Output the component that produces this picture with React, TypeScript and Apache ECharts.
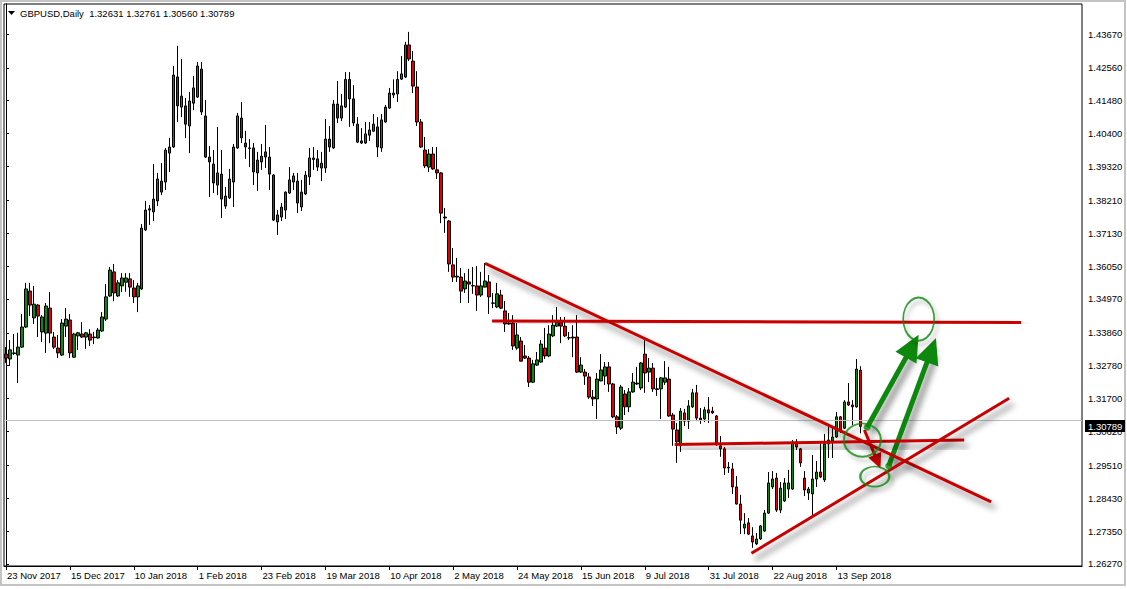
import React, { useEffect, useRef } from "react";
import * as echarts from "echarts";

// Daily GBPUSD candles: [open, close, low, high]
const ohlc: number[][] = [
  [1.3316, 1.3303, 1.3287, 1.3339], [1.3300, 1.3330, 1.3277, 1.3362], [1.3318, 1.3320, 1.3313, 1.3382], [1.3313, 1.3339, 1.3221, 1.3386],
  [1.3339, 1.3405, 1.3337, 1.3448], [1.3405, 1.3530, 1.3402, 1.3550], [1.3523, 1.3477, 1.3441, 1.3550], [1.3435, 1.3480, 1.3415, 1.3540],
  [1.3477, 1.3441, 1.3372, 1.3480], [1.3389, 1.3438, 1.3356, 1.3444], [1.3385, 1.3474, 1.3320, 1.3484], [1.3467, 1.3385, 1.3352, 1.3520],
  [1.3372, 1.3339, 1.3333, 1.3389], [1.3336, 1.3320, 1.3303, 1.3379], [1.3313, 1.3418, 1.3310, 1.3431], [1.3408, 1.3431, 1.3372, 1.3467],
  [1.3428, 1.3320, 1.3303, 1.3448], [1.3306, 1.3382, 1.3304, 1.3386], [1.3376, 1.3386, 1.3330, 1.3389], [1.3382, 1.3372, 1.3369, 1.3421],
  [1.3372, 1.3386, 1.3333, 1.3389], [1.3382, 1.3362, 1.3343, 1.3398], [1.3372, 1.3370, 1.3349, 1.3389], [1.3369, 1.3395, 1.3367, 1.3402],
  [1.3392, 1.3438, 1.3389, 1.3454], [1.3431, 1.3504, 1.3425, 1.3546], [1.3507, 1.3592, 1.3504, 1.3602], [1.3586, 1.3517, 1.3490, 1.3612],
  [1.3507, 1.3550, 1.3504, 1.3559], [1.3540, 1.3566, 1.3520, 1.3582], [1.3552, 1.3566, 1.3521, 1.3582], [1.3563, 1.3536, 1.3504, 1.3582],
  [1.3533, 1.3504, 1.3484, 1.3559], [1.3504, 1.3540, 1.3454, 1.3550], [1.3530, 1.3730, 1.3527, 1.3743], [1.3724, 1.3789, 1.3720, 1.3819],
  [1.3789, 1.3793, 1.3740, 1.3806], [1.3783, 1.3825, 1.3753, 1.3940], [1.3819, 1.3891, 1.3802, 1.3911], [1.3884, 1.3848, 1.3838, 1.3943],
  [1.3881, 1.3986, 1.3855, 1.3993], [1.3976, 1.3996, 1.3914, 1.4026], [1.3996, 1.4232, 1.3993, 1.4262], [1.4226, 1.4131, 1.4078, 1.4328],
  [1.4127, 1.4163, 1.4094, 1.4285], [1.4131, 1.4071, 1.4025, 1.4157], [1.4065, 1.4147, 1.3976, 1.4177], [1.4140, 1.4190, 1.4117, 1.4229],
  [1.4160, 1.4262, 1.4157, 1.4275], [1.4252, 1.4111, 1.4101, 1.4275], [1.4098, 1.3963, 1.3960, 1.4150], [1.3963, 1.3947, 1.3832, 1.3999],
  [1.3940, 1.3878, 1.3845, 1.3986], [1.3871, 1.3911, 1.3838, 1.4062], [1.3907, 1.3825, 1.3763, 1.3986], [1.3802, 1.3835, 1.3793, 1.3865],
  [1.3829, 1.3891, 1.3825, 1.3924], [1.3881, 1.3996, 1.3799, 1.4006], [1.3993, 1.4098, 1.3990, 1.4108], [1.4091, 1.4026, 1.4009, 1.4144],
  [1.4009, 1.3996, 1.3957, 1.4049], [1.3993, 1.3991, 1.3930, 1.4022], [1.3993, 1.3914, 1.3871, 1.4009], [1.3911, 1.3953, 1.3852, 1.3980],
  [1.3947, 1.3966, 1.3921, 1.4006], [1.3980, 1.3963, 1.3927, 1.4068], [1.3963, 1.3907, 1.3855, 1.3996], [1.3904, 1.3756, 1.3753, 1.3907],
  [1.3750, 1.3773, 1.3707, 1.3789], [1.3766, 1.3799, 1.3753, 1.3812], [1.3789, 1.3848, 1.3760, 1.3850], [1.3845, 1.3888, 1.3842, 1.3930],
  [1.3881, 1.3901, 1.3855, 1.3911], [1.3884, 1.3812, 1.3779, 1.3911], [1.3799, 1.3848, 1.3786, 1.3888], [1.3842, 1.3904, 1.3838, 1.3917],
  [1.3898, 1.3960, 1.3871, 1.3993], [1.3955, 1.3960, 1.3921, 1.3996], [1.3957, 1.3930, 1.3917, 1.3986], [1.3927, 1.3943, 1.3884, 1.3980],
  [1.3927, 1.4022, 1.3911, 1.4088], [1.4022, 1.3996, 1.3980, 1.4065], [1.3993, 1.4137, 1.3990, 1.4150], [1.4137, 1.4091, 1.4075, 1.4213],
  [1.4091, 1.4131, 1.4081, 1.4170], [1.4127, 1.4218, 1.4124, 1.4242], [1.4218, 1.4154, 1.4062, 1.4242], [1.4154, 1.4075, 1.4065, 1.4199],
  [1.4071, 1.4012, 1.4009, 1.4094], [1.4016, 1.4009, 1.4006, 1.4058], [1.4009, 1.4039, 1.4006, 1.4078], [1.4035, 1.4052, 1.4016, 1.4078],
  [1.4048, 1.4071, 1.4045, 1.4104], [1.4062, 1.3996, 1.3963, 1.4094], [1.3993, 1.4085, 1.3980, 1.4104], [1.4078, 1.4127, 1.4076, 1.4134],
  [1.4124, 1.4173, 1.4121, 1.4190], [1.4167, 1.4173, 1.4157, 1.4218], [1.4170, 1.4218, 1.4144, 1.4245], [1.4219, 1.4236, 1.4216, 1.4295],
  [1.4226, 1.4331, 1.4222, 1.4341], [1.4331, 1.4285, 1.4278, 1.4374], [1.4278, 1.4196, 1.4173, 1.4311], [1.4193, 1.4078, 1.4065, 1.4245],
  [1.4078, 1.3996, 1.3993, 1.4088], [1.3986, 1.3934, 1.3927, 1.4029], [1.3930, 1.3973, 1.3914, 1.3989], [1.3973, 1.3924, 1.3921, 1.3996],
  [1.3921, 1.3911, 1.3891, 1.3996], [1.3911, 1.3779, 1.3746, 1.3914], [1.3766, 1.3763, 1.3714, 1.3796], [1.3753, 1.3612, 1.3586, 1.3756],
  [1.3609, 1.3569, 1.3553, 1.3664], [1.3569, 1.3572, 1.3553, 1.3632], [1.3569, 1.3523, 1.3484, 1.3599], [1.3530, 1.3556, 1.3517, 1.3582],
  [1.3553, 1.3546, 1.3484, 1.3596], [1.3541, 1.3540, 1.3514, 1.3602], [1.3540, 1.3510, 1.3458, 1.3605], [1.3510, 1.3540, 1.3504, 1.3586],
  [1.3536, 1.3556, 1.3535, 1.3615], [1.3553, 1.3504, 1.3448, 1.3576], [1.3484, 1.3483, 1.3467, 1.3517], [1.3471, 1.3514, 1.3467, 1.3550],
  [1.3510, 1.3467, 1.3464, 1.3527], [1.3458, 1.3415, 1.3389, 1.3490], [1.3418, 1.3415, 1.3412, 1.3451], [1.3418, 1.3343, 1.3330, 1.3444],
  [1.3336, 1.3379, 1.3330, 1.3418], [1.3359, 1.3293, 1.3292, 1.3372], [1.3310, 1.3303, 1.3300, 1.3346], [1.3303, 1.3224, 1.3208, 1.3310],
  [1.3224, 1.3284, 1.3221, 1.3297], [1.3280, 1.3297, 1.3277, 1.3323], [1.3290, 1.3349, 1.3288, 1.3362], [1.3336, 1.3310, 1.3300, 1.3402],
  [1.3310, 1.3382, 1.3306, 1.3411], [1.3376, 1.3411, 1.3372, 1.3444], [1.3408, 1.3421, 1.3405, 1.3471], [1.3421, 1.3408, 1.3352, 1.3438],
  [1.3408, 1.3376, 1.3372, 1.3438], [1.3370, 1.3369, 1.3362, 1.3389], [1.3372, 1.3369, 1.3306, 1.3411], [1.3372, 1.3257, 1.3254, 1.3444],
  [1.3257, 1.3280, 1.3254, 1.3306], [1.3257, 1.3244, 1.3215, 1.3267], [1.3241, 1.3175, 1.3169, 1.3254], [1.3175, 1.3169, 1.3146, 1.3198],
  [1.3169, 1.3234, 1.3103, 1.3254], [1.3228, 1.3264, 1.3227, 1.3316], [1.3244, 1.3274, 1.3215, 1.3290], [1.3274, 1.3218, 1.3192, 1.3290],
  [1.3218, 1.3110, 1.3106, 1.3221], [1.3110, 1.3077, 1.3054, 1.3116], [1.3073, 1.3208, 1.3067, 1.3215], [1.3185, 1.3143, 1.3116, 1.3198],
  [1.3143, 1.3192, 1.3126, 1.3205], [1.3192, 1.3224, 1.3189, 1.3254], [1.3218, 1.3221, 1.3215, 1.3274], [1.3205, 1.3287, 1.3198, 1.3290],
  [1.3316, 1.3254, 1.3189, 1.3362], [1.3257, 1.3270, 1.3224, 1.3303], [1.3270, 1.3202, 1.3192, 1.3287], [1.3202, 1.3200, 1.3179, 1.3238],
  [1.3202, 1.3238, 1.3103, 1.3241], [1.3224, 1.3238, 1.3215, 1.3293], [1.3234, 1.3113, 1.3110, 1.3274], [1.3116, 1.3070, 1.3015, 1.3123],
  [1.3067, 1.3028, 1.2959, 1.3090], [1.3015, 1.3129, 1.2995, 1.3139], [1.3123, 1.3096, 1.3080, 1.3136], [1.3096, 1.3146, 1.3070, 1.3165],
  [1.3143, 1.3189, 1.3139, 1.3202], [1.3189, 1.3106, 1.3096, 1.3215], [1.3106, 1.3100, 1.3087, 1.3139], [1.3103, 1.3133, 1.3093, 1.3143],
  [1.3133, 1.3123, 1.3090, 1.3175], [1.3129, 1.3123, 1.3120, 1.3143], [1.3113, 1.3018, 1.3015, 1.3116], [1.3015, 1.3005, 1.2979, 1.3047],
  [1.3005, 1.2942, 1.2919, 1.3011], [1.2945, 1.2942, 1.2926, 1.2962], [1.2939, 1.2880, 1.2857, 1.2959], [1.2880, 1.2824, 1.2822, 1.2916],
  [1.2824, 1.2771, 1.2725, 1.2854], [1.2745, 1.2758, 1.2725, 1.2794], [1.2762, 1.2725, 1.2722, 1.2778], [1.2719, 1.2699, 1.2680, 1.2748],
  [1.2693, 1.2709, 1.2689, 1.2729], [1.2709, 1.2752, 1.2706, 1.2755], [1.2735, 1.2794, 1.2733, 1.2804], [1.2794, 1.2893, 1.2791, 1.2929],
  [1.2880, 1.2906, 1.2873, 1.2932], [1.2909, 1.2804, 1.2798, 1.2926], [1.2804, 1.2876, 1.2794, 1.2896], [1.2834, 1.2893, 1.2831, 1.2909],
  [1.2873, 1.2893, 1.2844, 1.2936], [1.2873, 1.3024, 1.2870, 1.3034], [1.3024, 1.3011, 1.3001, 1.3037], [1.3005, 1.2959, 1.2946, 1.3008],
  [1.2909, 1.2870, 1.2850, 1.2932], [1.2860, 1.2873, 1.2837, 1.2880], [1.2857, 1.2906, 1.2788, 1.2985], [1.2906, 1.2929, 1.2880, 1.2965],
  [1.2929, 1.2913, 1.2909, 1.3024], [1.2903, 1.3021, 1.2896, 1.3054], [1.3021, 1.3034, 1.2975, 1.3083], [1.3031, 1.3044, 1.2975, 1.3073],
  [1.3044, 1.3110, 1.3041, 1.3126], [1.3110, 1.3064, 1.3057, 1.3113], [1.3073, 1.3159, 1.3070, 1.3165], [1.3159, 1.3149, 1.3146, 1.3221],
  [1.3149, 1.3143, 1.3083, 1.3165], [1.3143, 1.3267, 1.3140, 1.3300], [1.32631, 1.30789, 1.30560, 1.32761],
];

// Date labels shown every 16 bars on the time axis
const dateTicks = [
  "23 Nov 2017", "15 Dec 2017", "10 Jan 2018", "1 Feb 2018", "23 Feb 2018", "19 Mar 2018", "10 Apr 2018",
  "2 May 2018", "24 May 2018", "15 Jun 2018", "9 Jul 2018", "31 Jul 2018", "22 Aug 2018", "13 Sep 2018",
];
const BARS_PER_TICK = 16;
const TOTAL_SLOTS = 270; // bars + empty chart shift on the right

// Price scale tick labels
const priceTicks = [
  1.4367, 1.4256, 1.4148, 1.404, 1.3932, 1.3821, 1.3713, 1.3605, 1.3497,
  1.3386, 1.3278, 1.317, 1.3062, 1.2951, 1.2843, 1.2735, 1.2627,
];
const PRICE_MIN = 1.26204;
const PRICE_MAX = 1.44655;

// Drawn objects: [barIndex, price]
const redTrendLines: number[][][] = [
  [[120, 1.3614], [246.75, 1.2831]], // falling trendline
  [[121.75, 1.3425], [254.25, 1.342]], // upper resistance
  [[167.5, 1.3019], [240, 1.3034]], // 1.30 level
  [[186.7, 1.2662], [251.25, 1.3171]], // rising trendline
];
const greenArrows: number[][][] = [
  [[215.7, 1.3076], [227, 1.3342]],
  [[221.1, 1.2949], [231.8, 1.3329]],
];
const redArrows: number[][][] = [[[215, 1.3067], [218.3, 1.2963]]];
const ellipses: { pos: number[]; size: number[] }[] = [
  { pos: [214.5, 1.3034], size: [37, 33] },
  { pos: [217.6, 1.2914], size: [29, 20] },
  { pos: [228.6, 1.3431], size: [31, 43] },
];
const arrowDots: number[][] = [
  [215.7, 1.3076],
  [221.1, 1.2949],
];

const FONT = "'Liberation Sans', Arial, sans-serif";
const FS = 9.5;
const RED = "#c80000";
const GREEN = "#0d870d";
const SHADOW = {
  shadowColor: "rgba(0,0,0,0.5)",
  shadowBlur: 6,
  shadowOffsetX: 4,
  shadowOffsetY: 6,
};

export default function App() {
  const ref = useRef<HTMLDivElement>(null);

  useEffect(() => {
    if (!ref.current) return;
    const chart = echarts.init(ref.current, null, { renderer: "svg" });
    const last = ohlc[ohlc.length - 1];
    const categories = Array.from({ length: TOTAL_SLOTS }, (_, i) => String(i));
    const showTick = (i: number) =>
      i % BARS_PER_TICK === 0 && i / BARS_PER_TICK < dateTicks.length;

    const series: any[] = [
      {
        type: "candlestick",
        xAxisIndex: 0,
        yAxisIndex: 0,
        data: ohlc,
        barWidth: 3,
        itemStyle: {
          color: "#0a8a0a",
          color0: "#e00000",
          borderColor: "#000",
          borderColor0: "#000",
          borderColorDoji: "#000",
          borderWidth: 1,
        },
        markLine: {
          silent: true,
          symbol: ["none", "none"],
          data: [{ yAxis: last[1] }],
          lineStyle: { color: "#c0c0c0", width: 1, type: "solid" },
          label: { show: false },
        },
        z: 2,
      },
    ];

    redTrendLines.forEach((ln) => {
      series.push({
        type: "line",
        xAxisIndex: 1,
        yAxisIndex: 0,
        data: ln,
        symbol: "none",
        silent: true,
        lineStyle: { color: RED, width: 3, type: "solid", ...SHADOW },
        z: 5,
      });
    });

    series.push({
      type: "line",
      xAxisIndex: 1,
      yAxisIndex: 0,
      data: [],
      silent: true,
      z: 6,
      markLine: {
        silent: true,
        label: { show: false },
        data: [
          ...greenArrows.map((a) => [
            { coord: a[0], symbol: "none", lineStyle: { color: GREEN, width: 5, type: "solid", ...SHADOW } },
            { coord: a[1], symbol: "triangle", symbolSize: [24, 26], itemStyle: { color: GREEN } },
          ]),
          ...redArrows.map((a) => [
            { coord: a[0], symbol: "none", lineStyle: { color: RED, width: 3, type: "solid", ...SHADOW } },
            { coord: a[1], symbol: "triangle", symbolSize: [14, 15], itemStyle: { color: RED } },
          ]),
        ],
      },
    });

    series.push({
      type: "scatter",
      xAxisIndex: 1,
      yAxisIndex: 0,
      silent: true,
      z: 7,
      symbol: "circle",
      data: ellipses.map((e) => ({ value: e.pos, symbolSize: e.size })),
      itemStyle: {
        color: "rgba(0,0,0,0)",
        borderColor: GREEN,
        borderWidth: 2,
        shadowColor: "rgba(0,0,0,0.35)",
        shadowBlur: 4,
        shadowOffsetX: 3,
        shadowOffsetY: 4,
      },
    });

    series.push({
      type: "scatter",
      xAxisIndex: 1,
      yAxisIndex: 0,
      silent: true,
      z: 8,
      symbol: "circle",
      symbolSize: 7,
      data: arrowDots,
      itemStyle: { color: GREEN },
    });

    const option: any = {
      animation: false,
      backgroundColor: "#fff",
      textStyle: { fontFamily: FONT },
      grid: {
        left: 4,
        right: 45,
        top: 4,
        bottom: 23,
        show: true,
        borderColor: "#000",
        borderWidth: 1,
        backgroundColor: "#fff",
      },
      xAxis: [
        {
          type: "category",
          data: categories,
          boundaryGap: true,
          axisLine: { show: true, lineStyle: { color: "#000", width: 1 } },
          axisTick: {
            show: true,
            interval: (i: number) => showTick(i),
            alignWithLabel: true,
            length: 4,
            lineStyle: { color: "#000" },
          },
          axisLabel: {
            interval: (i: number) => showTick(i),
            formatter: (_v: string, i: number) => dateTicks[i / BARS_PER_TICK] ?? "",
            align: "left",
            margin: 4,
            padding: [0, 0, 0, 1],
            color: "#000",
            fontSize: FS,
            fontFamily: FONT,
          },
          splitLine: { show: false },
        },
        {
          type: "value",
          min: -0.5,
          max: TOTAL_SLOTS - 0.5,
          show: false,
        },
      ],
      yAxis: [
        {
          type: "value",
          position: "right",
          min: PRICE_MIN,
          max: PRICE_MAX,
          splitLine: { show: false },
          axisLine: { show: true, lineStyle: { color: "#000", width: 1 } },
          axisTick: {
            show: true,
            customValues: priceTicks,
            length: 3,
            lineStyle: { color: "#000" },
          },
          axisLabel: {
            customValues: priceTicks,
            formatter: (v: number) => v.toFixed(5),
            margin: 6,
            color: "#000",
            fontSize: FS,
            fontFamily: FONT,
          },
        },
      ],
      series,
    };

    chart.setOption(option);

    // Current-price tag on the price scale, placed through the axis scale
    const py = chart.convertToPixel({ yAxisIndex: 0 }, last[1]) as number;
    const gridRight = 1127 - 45;
    chart.setOption({
      graphic: [
        {
          type: "rect",
          shape: { x: 1, y: 1, width: 1124, height: 584 },
          style: { fill: "none", stroke: "#c4c4c4", lineWidth: 2 },
          silent: true,
          z: 0,
        },
        {
          type: "polygon",
          shape: { points: [[8, 11], [15, 11], [11.5, 15]] },
          style: { fill: "#000" },
          silent: true,
          z: 10,
        },
        {
          type: "text",
          left: 20,
          top: 8,
          style: {
            text:
              "GBPUSD,Daily  " +
              [last[0], last[3], last[2], last[1]].map((v) => v.toFixed(5)).join(" "),
            fill: "#000",
            font: `${FS}px ${FONT}`,
          },
          silent: true,
          z: 10,
        },
        {
          type: "rect",
          shape: { x: gridRight + 3, y: Math.round(py) - 6, width: 40, height: 12 },
          style: { fill: "#000" },
          silent: true,
          z: 20,
        },
        {
          type: "text",
          x: gridRight + 6,
          y: Math.round(py),
          style: {
            text: last[1].toFixed(5),
            fill: "#fff",
            font: `${FS}px ${FONT}`,
            verticalAlign: "middle",
            align: "left",
          },
          silent: true,
          z: 21,
        },
      ],
    });

    return () => chart.dispose();
  }, []);

  return (
    <div
      ref={ref}
      style={{ position: "absolute", left: 0, top: 0, width: 1127, height: 589, background: "#fff" }}
    />
  );
}
